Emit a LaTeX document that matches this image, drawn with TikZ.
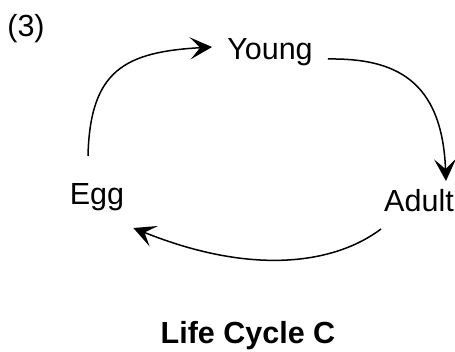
\documentclass[tikz,border=0pt]{standalone}
\usepackage{fontspec}
\setmainfont{Liberation Sans}
\usetikzlibrary{arrows.meta}
\begin{document}
\begin{tikzpicture}[x=1pt,y=-1pt,
  lbl/.style={inner sep=0pt, anchor=base, font=\fontsize{30.5}{36}\selectfont},
  ttl/.style={lbl, font=\fontsize{30.5}{36}\selectfont\bfseries},
  conn/.style={line width=1.5pt, -{Stealth[length=22pt,width=22pt,inset=10pt]}}]
\useasboundingbox[fill=white] (0,0) rectangle (455,351);
\node[lbl] (num) at (26,36) {(3)};
\node[lbl] (young) at (270,59) {Young};
\node[lbl] (egg) at (97,204) {Egg};
\node[lbl] (adult) at (419,211) {Adult};
\node[ttl] (title) at (248,343) {Life Cycle C};
% Egg -> Young
\draw[conn] ([shift={(-9,-48)}]egg.base) .. controls (90,70) and (125,52) .. ([shift={(-15,-12)}]young.base west);
% Young -> Adult
\draw[conn] ([shift={(15,0)}]young.base east) .. controls (395,58) and (442,80) .. ([shift={(27,-30)}]adult.base);
% Adult -> Egg
\draw[conn] ([shift={(-3,18)}]adult.base west) .. controls (333,265) and (250,275) .. ([shift={(9,24)}]egg.base east);
\end{tikzpicture}
\end{document}
